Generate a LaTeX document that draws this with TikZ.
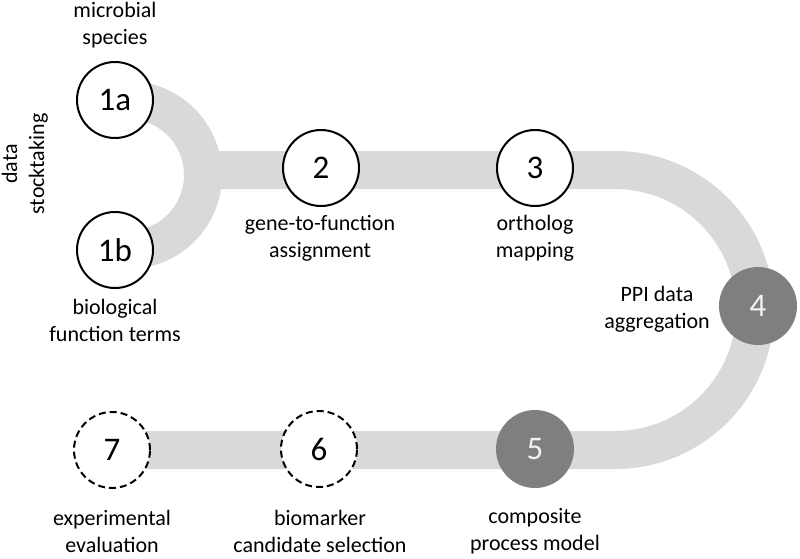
\documentclass[tikz,border=0pt]{standalone}
\usepackage{fontspec}
\setmainfont{Carlito}
\definecolor{trackgray}{HTML}{D9D9D9}
\definecolor{darkfill}{HTML}{7F7F7F}
\definecolor{numwhite}{HTML}{F2F2F2}
\begin{document}
\begin{tikzpicture}[x=1pt,y=-1pt,
  track/.style={draw=trackgray,line width=38pt},
  stepcircle/.style={circle,draw=black,line width=2pt,fill=white,minimum size=76pt,inner sep=0pt,font=\fontsize{33}{36}\selectfont},
  futurecircle/.style={stepcircle,dash pattern=on 7pt off 4pt},
  donecircle/.style={circle,fill=darkfill,minimum size=78pt,inner sep=0pt,text=numwhite,font=\fontsize{33}{36}\selectfont},
  lbl/.style={align=center,inner sep=0pt,font=\fontsize{22}{27}\selectfont}
]
\useasboundingbox[fill=white] (0,0) rectangle (800,558);

% track coordinates
\coordinate (ja) at (128,100);
\coordinate (jt) at (200,170);
\coordinate (rt) at (615,170);

% node positions (defined first for track ends)
\coordinate (p1a) at (115,100);
\coordinate (p1b) at (115,250);
\coordinate (p7) at (112,450);

\draw[track] (p1a) -- (ja) arc[start angle=90,end angle=-90,radius=75pt] -- (p1b);
\draw[track] (jt) -- (rt) arc[start angle=90,end angle=-90,radius=140pt] -- (p7);

\node[stepcircle] (n1a) at (p1a) {1a};
\node[stepcircle] (n1b) at (p1b) {1b};
\node[stepcircle] (n2) at (321,168) {2};
\node[stepcircle] (n3) at (535,168) {3};
\node[donecircle] (n4) at (758,306) {4};
\node[donecircle] (n5) at (535,449) {5};
\node[futurecircle] (n6) at (319,449) {6};
\node[futurecircle] (n7) at (p7) {7};

\node[lbl] (l1a) at (115,25) {microbial\\species};
\node[lbl] (l1b) at (115,320) {biological\\function terms};
\node[lbl,rotate=90] (lds) at (25,164) {data\\stocktaking};
\node[lbl] (l2) at (320,238) {gene-to-function\\assignment};
\node[lbl] (l3) at (535,238) {ortholog\\mapping};
\node[lbl] (l4) at (657,309) {PPI data\\aggregation};
\node[lbl] (l5) at (535,531) {composite\\process model};
\node[lbl] (l6) at (320,531) {biomarker\\candidate selection};
\node[lbl] (l7) at (112,531) {experimental\\evaluation};
\end{tikzpicture}
\end{document}
